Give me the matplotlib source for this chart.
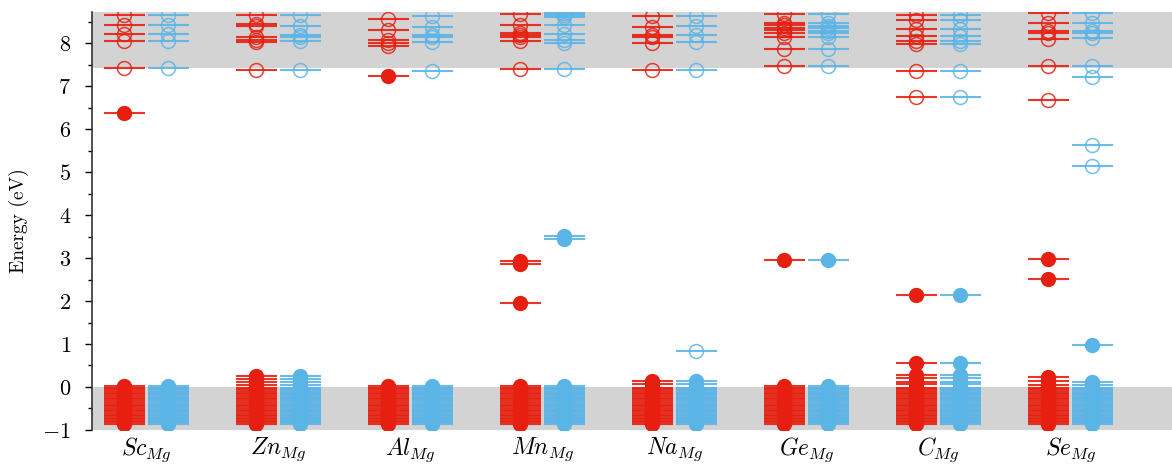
import matplotlib
matplotlib.use("Agg")
import matplotlib.pyplot as plt
from matplotlib.ticker import FuncFormatter, MultipleLocator

plt.rcParams["mathtext.fontset"] = "cm"

# substitutional defects on the Mg site
defects = ["Sc", "Zn", "Al", "Mn", "Na", "Ge", "C", "Se"]

# host valence-band states shared by every supercell (eV, VBM = 0)
vb_levels = [-0.86, -0.82, -0.79, -0.75, -0.71, -0.68, -0.64, -0.60, -0.57,
             -0.53, -0.49, -0.45, -0.41, -0.37, -0.33, -0.29, -0.25, -0.21,
             -0.17, -0.13, -0.09, -0.05, -0.02]

# occupied / unoccupied Kohn-Sham levels above the host VB, spin up
up_occ = [
    [0.02, 6.38],
    [0.05, 0.12, 0.18, 0.25],
    [0.02, 7.23],
    [0.02, 1.96, 2.86, 2.93],
    [0.07, 0.15],
    [0.03, 2.96],
    [0.08, 0.12, 0.20, 0.28, 0.55, 2.15],
    [0.05, 0.15, 0.24, 2.51, 2.97],
]
up_empty = [
    [7.42, 8.05, 8.20, 8.42, 8.65],
    [7.37, 8.02, 8.08, 8.15, 8.40, 8.44, 8.65],
    [7.93, 8.00, 8.06, 8.30, 8.55],
    [7.40, 8.05, 8.13, 8.18, 8.24, 8.41, 8.67],
    [7.38, 8.00, 8.14, 8.19, 8.38, 8.64],
    [7.46, 7.86, 8.15, 8.24, 8.31, 8.36, 8.42, 8.46, 8.67],
    [6.74, 7.34, 7.97, 8.05, 8.17, 8.33, 8.54, 8.65],
    [6.68, 7.46, 8.10, 8.23, 8.27, 8.46, 8.69],
]

# spin down
dn_occ = [
    [0.02],
    [0.05, 0.12, 0.18, 0.25],
    [0.02],
    [0.02, 3.45, 3.51],
    [0.07, 0.15],
    [0.03, 2.96],
    [0.08, 0.12, 0.20, 0.28, 0.55, 2.15],
    [0.05, 0.12, 0.97],
]
dn_empty = [
    [7.42, 8.05, 8.20, 8.42, 8.65],
    [7.37, 8.04, 8.13, 8.18, 8.39, 8.65],
    [7.34, 8.02, 8.13, 8.18, 8.37, 8.62],
    [7.40, 8.00, 8.06, 8.20, 8.42, 8.60, 8.66, 8.71],
    [0.84, 7.38, 8.03, 8.18, 8.40, 8.64],
    [7.46, 7.86, 8.15, 8.24, 8.29, 8.34, 8.40, 8.46, 8.67],
    [6.74, 7.34, 7.97, 8.05, 8.17, 8.33, 8.54, 8.65],
    [5.14, 5.64, 7.21, 7.46, 8.11, 8.23, 8.27, 8.46, 8.69],
]

cbm = 7.42
RED = "#e61f10"
BLUE = "#5ab4e6"

fig = plt.figure(figsize=(11.72, 4.66), dpi=100)
ax = fig.add_axes([0.0785, 0.0773, 0.9215, 0.8967])

ax.axhspan(-1.0, 0.0, color="#d3d3d3", lw=0, zorder=0)
ax.axhspan(cbm, 9.0, color="#d3d3d3", lw=0, zorder=0)

offset = 0.167
half = 0.155


def draw_levels(x, occ, empty, color):
    occ = vb_levels + occ
    ax.hlines(occ, x - half, x + half, color=color, lw=1.5, alpha=0.9, zorder=2)
    ax.hlines(empty, x - half, x + half, color=color, lw=1.5, alpha=0.9, zorder=2)
    ax.plot([x] * len(occ), occ, "o", ms=10, color=color, mec=color, zorder=3)
    ax.plot([x] * len(empty), empty, "o", ms=10, mfc="none", mec=color,
            mew=1.1, alpha=0.85, zorder=3)


for i in range(len(defects)):
    draw_levels(i - offset, up_occ[i], up_empty[i], RED)
    draw_levels(i + offset, dn_occ[i], dn_empty[i], BLUE)

ax.set_xlim(-0.41, 7.77)
ax.set_ylim(-1.0, 8.72)
ax.set_xticks(range(len(defects)))
ax.set_xticklabels([f"${d}_{{Mg}}$" for d in defects], fontsize=17)
ax.tick_params(axis="x", length=0, pad=4)

ax.yaxis.set_major_locator(MultipleLocator(1))
ax.yaxis.set_minor_locator(MultipleLocator(0.5))
ax.yaxis.set_major_formatter(FuncFormatter(lambda v, p: f"${v:g}$"))
ax.tick_params(axis="y", which="major", length=5, width=1, labelsize=16, pad=10)
ax.tick_params(axis="y", which="minor", length=3, width=1)
ax.set_ylabel("Energy (eV)", fontfamily="cmr10", fontsize=14, labelpad=10)

for side in ["top", "right", "bottom"]:
    ax.spines[side].set_visible(False)
ax.spines["left"].set_linewidth(1.2)
ax.spines["left"].set_color("#333333")

fig.savefig("out.png", dpi=100)
